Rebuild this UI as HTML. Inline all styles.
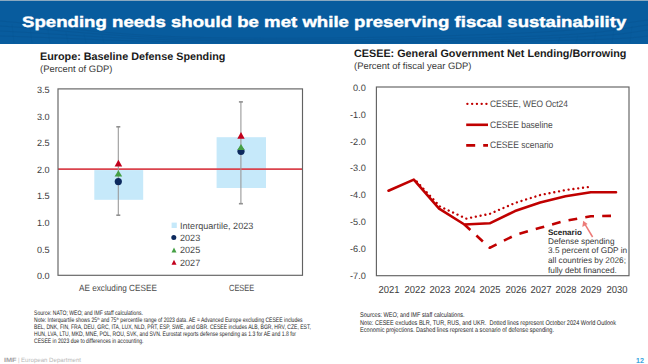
<!DOCTYPE html>
<html><head><meta charset="utf-8">
<style>
html,body{margin:0;padding:0;background:#fff;}
body{width:648px;height:364px;position:relative;overflow:hidden;font-family:"Liberation Sans",sans-serif;}
.t{position:absolute;white-space:nowrap;line-height:1;transform:skewX(0.1deg);}
svg{position:absolute;left:0;top:0;}
</style></head><body>
<svg width="648" height="364" viewBox="0 0 648 364">
  <!-- header -->
  <rect x="0" y="0" width="648" height="44" fill="#085c9e"/>
  <rect x="0" y="0" width="648" height="1" fill="#8aa9c0"/>
  <g fill="none" stroke="#07508c" stroke-width="0.7" opacity="0.55">
    <path d="M0 21 C40 24 80 32 160 36 S400 38 500 34 S600 26 648 20"/>
    <path d="M0 26 C50 29 90 35 170 38 S410 40 510 37 S610 30 648 25"/>
    <path d="M0 31 C60 34 100 38 180 40 S420 42 520 39 S620 34 648 30"/>
    <path d="M0 36 C70 38 110 41 190 42 S430 43 530 41 S630 38 648 36"/>
  </g>
  <g fill="none" stroke="#07508c" stroke-width="0.5" opacity="0.35">
    <path d="M12 24 L14 43 M30 27 L32 43 M48 30 L50 43 M66 32 L68 43 M84 34 L86 43 M102 35 L104 43 M560 37 L558 43 M578 35 L576 43 M596 32 L594 43 M614 29 L612 43 M632 26 L630 43"/>
  </g>

  <!-- LEFT CHART -->
  <rect x="94.3" y="170.1" width="48.9" height="29.7" fill="#c6e9fa"/>
  <rect x="216.6" y="137.2" width="49.4" height="50.8" fill="#c6e9fa"/>
  <line x1="58" y1="169.1" x2="302.5" y2="169.1" stroke="#da434d" stroke-width="1.7"/>
  <g stroke="#9a9a9a" stroke-width="1.1">
    <line x1="118.3" y1="126.8" x2="118.3" y2="215.2"/>
    <line x1="240.9" y1="101.9" x2="240.9" y2="203.7"/>
  </g>
  <g stroke="#909090" stroke-width="1.6">
    <line x1="116.3" y1="126.8" x2="120.3" y2="126.8"/>
    <line x1="116.3" y1="215.2" x2="120.3" y2="215.2"/>
    <line x1="238.9" y1="101.9" x2="242.9" y2="101.9"/>
    <line x1="238.9" y1="203.7" x2="242.9" y2="203.7"/>
  </g>
  <!-- markers AE -->
  <circle cx="118.3" cy="181.6" r="3.6" fill="#0d2a5e"/>
  <polygon points="118.4,170.3 114.6,176.6 122.2,176.6" fill="#45a044"/>
  <polygon points="118.4,159.8 114.6,166.5 122.2,166.5" fill="#c2001c"/>
  <!-- markers CESEE -->
  <circle cx="241" cy="151.3" r="3.6" fill="#0d2a5e"/>
  <polygon points="241,144.1 237.3,149.9 244.7,149.9" fill="#45a044"/>
  <polygon points="241,132.1 237.3,138.8 244.7,138.8" fill="#c2001c"/>
  <!-- frame -->
  <rect x="58" y="88.9" width="244.5" height="186.4" fill="none" stroke="#626262" stroke-width="1.15"/>
  <!-- legend -->
  <rect x="171.6" y="222.6" width="5.2" height="5.4" fill="#c6e9fa"/>
  <circle cx="173.8" cy="237.5" r="2.5" fill="#0d2a5e"/>
  <polygon points="174,247.6 171.5,252.5 176.5,252.5" fill="#45a044"/>
  <polygon points="174,259.7 171.5,264.8 176.5,264.8" fill="#c2001c"/>

  <!-- RIGHT CHART -->
  <rect x="376.4" y="87" width="252.6" height="188.7" fill="none" stroke="#626262" stroke-width="1.15"/>
  <g fill="none" stroke="#c00000" stroke-linejoin="round">
    <polyline stroke-width="2.6" stroke-linecap="round" points="388.5,190.7 413.8,179.6 439.1,208.6 464.4,224.5 489.7,223.3 515,211.1 540.2,202.4 565.5,196.3 590.8,192.2 616,192.2"/>
    <polyline stroke-width="2.35" stroke-linecap="round" stroke-dasharray="0.01 4.84" stroke-dashoffset="2.1" points="414.9,179.6 440.1,206.6 466.2,218.6 489.7,213.9 515,203 540.2,195 565.5,190.1 590.8,186.7"/>
    <polyline stroke-width="2.6" stroke-dasharray="8.8 8.2" stroke-dashoffset="0.7" points="464.4,224.5 489.7,247.8 515,235.1 540.2,227.8 565.5,220.7 590.8,216.3 616,215.8"/>
  </g>
  <!-- legend lines -->
  <line x1="467.4" y1="103.8" x2="488" y2="103.8" stroke="#c00000" stroke-width="2.35" stroke-linecap="round" stroke-dasharray="0.01 4.75"/>
  <line x1="466.2" y1="124.8" x2="488" y2="124.8" stroke="#c00000" stroke-width="2.6"/>
  <line x1="466.2" y1="145.4" x2="488" y2="145.4" stroke="#c00000" stroke-width="2.6" stroke-dasharray="9 8"/>
  <!-- arrow -->
  <g stroke="#ec7b78" stroke-width="1.5" fill="#ec7b78">
    <line x1="592.6" y1="237" x2="585.2" y2="224.6"/>
    <polygon points="583.2,220.8 582.3,227 587.6,224.1" stroke="none"/>
  </g>
</svg>

<!-- header title -->
<div class="t" style="left:21.8px;top:14.3px;font-size:15.2px;font-weight:bold;color:#fff;-webkit-text-stroke:0.4px #fff;transform-origin:0 0;transform:scaleX(1.226) skewX(0.1deg);">Spending needs should be met while preserving fiscal sustainability</div>

<!-- left chart texts -->
<div class="t" style="left:40px;top:50.9px;font-size:10.8px;font-weight:bold;color:#1a1a1a;">Europe: Baseline Defense Spending</div>
<div class="t" style="left:40px;top:63.8px;font-size:9.45px;color:#383838;">(Percent of GDP)</div>
<div id="ly" style="position:absolute;left:0;top:0;width:648px;height:364px;font-size:9.1px;color:#3c3c3c;">
  <div class="t" style="right:598.6px;top:86.02px;">3.5</div>
  <div class="t" style="right:598.6px;top:112.60px;">3.0</div>
  <div class="t" style="right:598.6px;top:139.19px;">2.5</div>
  <div class="t" style="right:598.6px;top:165.77px;">2.0</div>
  <div class="t" style="right:598.6px;top:192.36px;">1.5</div>
  <div class="t" style="right:598.6px;top:218.94px;">1.0</div>
  <div class="t" style="right:598.6px;top:245.53px;">0.5</div>
  <div class="t" style="right:598.6px;top:272.11px;">0.0</div>
</div>
<div class="t" style="left:179.6px;top:221.7px;font-size:9.1px;color:#4a4a4a;">Interquartile, 2023</div>
<div class="t" style="left:180px;top:233.9px;font-size:9.1px;color:#4a4a4a;">2023</div>
<div class="t" style="left:180px;top:246.2px;font-size:9.1px;color:#4a4a4a;">2025</div>
<div class="t" style="left:180px;top:259px;font-size:9.1px;color:#4a4a4a;">2027</div>
<div class="t" style="left:79.3px;top:284px;font-size:9px;color:#4a4a4a;transform-origin:0 0;transform:scaleX(0.91) skewX(0.1deg);">AE excluding CESEE</div>
<div class="t" style="left:228.6px;top:284px;font-size:9px;color:#4a4a4a;transform-origin:0 0;transform:scaleX(0.827) skewX(0.1deg);">CESEE</div>

<!-- right chart texts -->
<div class="t" style="left:353.8px;top:48px;font-size:10.8px;font-weight:bold;color:#1a1a1a;">CESEE: General Government Net Lending/Borrowing</div>
<div class="t" style="left:353.8px;top:60.7px;font-size:9.45px;color:#383838;">(Percent of fiscal year GDP)</div>
<div style="position:absolute;left:0;top:0;width:648px;height:364px;font-size:9.2px;color:#3c3c3c;">
  <div class="t" style="right:282.2px;top:83.77px;">0.0</div>
  <div class="t" style="right:282.2px;top:110.67px;">-1.0</div>
  <div class="t" style="right:282.2px;top:137.57px;">-2.0</div>
  <div class="t" style="right:282.2px;top:164.47px;">-3.0</div>
  <div class="t" style="right:282.2px;top:191.37px;">-4.0</div>
  <div class="t" style="right:282.2px;top:218.27px;">-5.0</div>
  <div class="t" style="right:282.2px;top:245.17px;">-6.0</div>
  <div class="t" style="right:282.2px;top:272.07px;">-7.0</div>
</div>
<div style="position:absolute;left:0;top:285.2px;width:648px;font-size:10.2px;color:#3c3c3c;">
  <div class="t" style="left:374.2px;width:30px;text-align:center;transform:scaleX(0.93) skewX(0.1deg);">2021</div>
  <div class="t" style="left:399.5px;width:30px;text-align:center;transform:scaleX(0.93) skewX(0.1deg);">2022</div>
  <div class="t" style="left:424.7px;width:30px;text-align:center;transform:scaleX(0.93) skewX(0.1deg);">2023</div>
  <div class="t" style="left:450.0px;width:30px;text-align:center;transform:scaleX(0.93) skewX(0.1deg);">2024</div>
  <div class="t" style="left:475.3px;width:30px;text-align:center;transform:scaleX(0.93) skewX(0.1deg);">2025</div>
  <div class="t" style="left:500.5px;width:30px;text-align:center;transform:scaleX(0.93) skewX(0.1deg);">2026</div>
  <div class="t" style="left:525.8px;width:30px;text-align:center;transform:scaleX(0.93) skewX(0.1deg);">2027</div>
  <div class="t" style="left:551.1px;width:30px;text-align:center;transform:scaleX(0.93) skewX(0.1deg);">2028</div>
  <div class="t" style="left:576.3px;width:30px;text-align:center;transform:scaleX(0.93) skewX(0.1deg);">2029</div>
  <div class="t" style="left:601.6px;width:30px;text-align:center;transform:scaleX(0.93) skewX(0.1deg);">2030</div>
</div>
<div class="t" style="left:490px;top:99.4px;font-size:9.4px;color:#4a4a4a;transform-origin:0 0;transform:scaleX(0.894) skewX(0.1deg);">CESEE, WEO Oct24</div>
<div class="t" style="left:490px;top:120px;font-size:9.4px;color:#4a4a4a;transform-origin:0 0;transform:scaleX(0.906) skewX(0.1deg);">CESEE baseline</div>
<div class="t" style="left:490px;top:140.4px;font-size:9.4px;color:#4a4a4a;transform-origin:0 0;transform:scaleX(0.907) skewX(0.1deg);">CESEE scenario</div>

<div class="t" style="left:548px;top:228.6px;font-size:8px;font-weight:bold;color:#222;">Scenario</div>
<div class="t" style="left:548px;top:238.2px;font-size:8.25px;color:#383838;">Defense spending</div>
<div class="t" style="left:548px;top:247.4px;font-size:8.25px;color:#383838;">3.5 percent of GDP in</div>
<div class="t" style="left:548px;top:257.4px;font-size:8.25px;color:#383838;">all countries by 2026;</div>
<div class="t" style="left:548px;top:267.3px;font-size:8.25px;color:#383838;">fully debt financed.</div>

<!-- footnotes -->
<div style="position:absolute;left:33.8px;top:308.5px;font-size:6.5px;line-height:7.1px;color:#262626;transform-origin:0 0;transform:scaleX(0.779) skewX(0.1deg);white-space:nowrap;">
Source: NATO; WEO; and IMF staff calculations.<br>
Note: Interquartile shows 25<sup style="font-size:3.8px;vertical-align:2px;line-height:0">th</sup> and 75<sup style="font-size:3.8px;vertical-align:2px;line-height:0">th</sup> percentile range of 2023 data. AE = Advanced Europe excluding CESEE includes<br>
BEL, DNK, FIN, FRA, DEU, GRC, ITA, LUX, NLD, PRT, ESP, SWE, and GBR. CESEE includes ALB, BGR, HRV, CZE, EST,<br>
HUN, LVA, LTU, MKD, MNE, POL, ROU, SVK, and SVN. Eurostat reports defense spending as 1.3 for AE and 1.8 for<br>
CESEE in 2023 due to differences in accounting.
</div>
<div style="position:absolute;left:360px;top:310.9px;font-size:6.8px;line-height:7.55px;color:#262626;transform-origin:0 0;transform:scaleX(0.82) skewX(0.1deg);white-space:nowrap;">
Sources: WEO; and IMF staff calculations.<br>
Note: CESEE excludes BLR, TUR, RUS, and UKR.&nbsp; Dotted lines represent October 2024 World Outlook<br>
Economic projections. Dashed lines represent a scenario of defense spending.
</div>

<!-- footer -->
<div class="t" style="left:3.6px;top:356.6px;font-size:6.3px;font-weight:bold;color:#a2a2a2;transform-origin:0 0;transform:scaleX(1.16) skewX(0.1deg);">IMF</div>
<div class="t" style="left:18.4px;top:357px;font-size:6px;color:#bdbdbd;">|</div>
<div class="t" style="left:21.4px;top:356.6px;font-size:6.1px;color:#b8b8b8;">European Department</div>
<div class="t" style="left:635.9px;top:356.9px;font-size:7.2px;font-weight:bold;color:#3aa6de;">12</div>
</body></html>
